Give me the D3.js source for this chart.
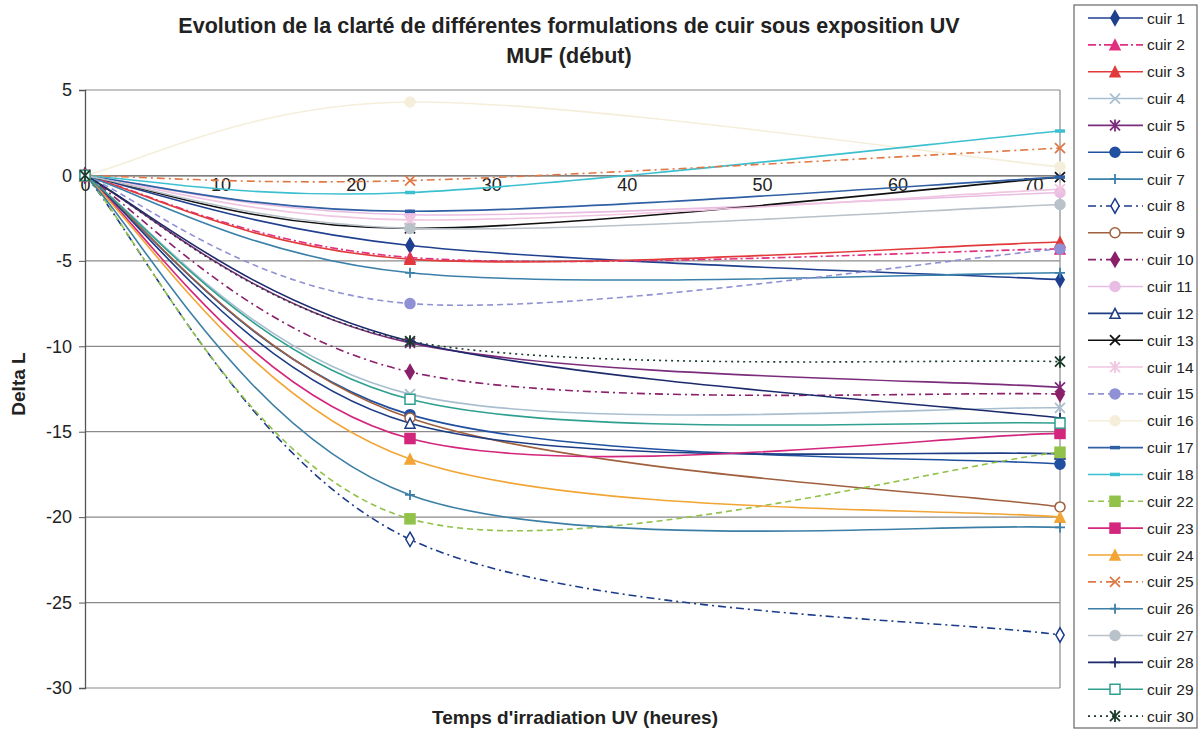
<!DOCTYPE html>
<html><head><meta charset="utf-8">
<script src="https://cdn.jsdelivr.net/npm/d3@7"></script>
<style>
html,body{margin:0;padding:0;background:#fff;}
svg{display:block;font-family:Arial,"Liberation Sans",sans-serif;}
</style></head>
<body><svg id="chart" width="1202" height="734"></svg>
<script>
// ---- data ----
const hours = [0, 24, 72];
const names = ["cuir 1","cuir 2","cuir 3","cuir 4","cuir 5","cuir 6","cuir 7","cuir 8","cuir 9","cuir 10",
  "cuir 11","cuir 12","cuir 13","cuir 14","cuir 15","cuir 16","cuir 17","cuir 18","cuir 22","cuir 23",
  "cuir 24","cuir 25","cuir 26","cuir 27","cuir 28","cuir 29","cuir 30"];
const cuir1  = [0, -4.1, -6.1];
const cuir2  = [0, -4.8, -4.3];
const cuir3  = [0, -4.9, -3.9];
const cuir4  = [0, -12.8, -13.6];
const cuir5  = [0, -9.8, -12.4];
const cuir6  = [0, -14.0, -16.9];
const cuir7  = [0, -5.7, -5.7];
const cuir8  = [0, -21.3, -26.9];
const cuir9  = [0, -14.2, -19.4];
const cuir10 = [0, -11.5, -12.8];
const cuir11 = [0, -2.3, -1.0];
const cuir12 = [0, -14.5, -16.3];
const cuir13 = [0, -3.1, -0.1];
const cuir14 = [0, -2.6, -0.8];
const cuir15 = [0, -7.5, -4.3];
const cuir16 = [0, 4.3, 0.5];
const cuir17 = [0, -2.1, -0.1];
const cuir18 = [0, -1.0, 2.6];
const cuir22 = [0, -20.1, -16.2];
const cuir23 = [0, -15.4, -15.1];
const cuir24 = [0, -16.6, -20.0];
const cuir25 = [0, -0.3, 1.6];
const cuir26 = [0, -18.7, -20.6];
const cuir27 = [0, -3.1, -1.7];
const cuir28 = [0, -9.7, -14.2];
const cuir29 = [0, -13.1, -14.5];
const cuir30 = [0, -9.7, -10.9];
const seriesValues = [cuir1,cuir2,cuir3,cuir4,cuir5,cuir6,cuir7,cuir8,cuir9,cuir10,cuir11,cuir12,cuir13,cuir14,
  cuir15,cuir16,cuir17,cuir18,cuir22,cuir23,cuir24,cuir25,cuir26,cuir27,cuir28,cuir29,cuir30];
const xTicks = [0, 10, 20, 30, 40, 50, 60, 70];
const yTicks = [5, 0, -5, -10, -15, -20, -25, -30];

// ---- styles ----
const colors = ["#1f3f8f","#e0307f","#e23a3a","#a9bfd0","#7b2c7b","#2050a0","#3a80aa","#1a3a8a","#a0603f","#8a1f6a",
  "#e9bde3","#1c3c84","#111111","#f0c6e2","#9090d4","#f5eedb","#3060a4","#3cc0d0","#92c24a","#d3267d",
  "#f2a535","#e07845","#3c7fa6","#b9c1c9","#1c2a6c","#2fa090","#1c3a2c"];
const dashes = [null,"8,3,2,3",null,null,null,null,null,"8,4,2,4",null,"8,4,2,4",
  null,null,null,null,"6,4",null,null,null,"6,4",null,
  null,"8,4,2,4",null,null,null,null,"2,4"];
const markers = ["diamond","triangle","triangle","x","asterisk","circle","plus","diamond","circle","diamond",
  "circle","triangle","x","asterisk","circle","circle","dash","dash","square","square",
  "triangle","x","plus","circle","plus","square","asterisk"];
const filled = [true,true,true,false,false,true,false,false,false,true,
  true,false,false,false,true,true,true,true,true,true,
  true,false,false,true,false,false,false];

const svg = d3.select("#chart");
const W = 1202, H = 734;
svg.append("rect").attr("width", W).attr("height", H).attr("fill", "#fff");

const x = d3.scaleLinear().domain([0, 72]).range([85, 1060]);
const y = d3.scaleLinear().domain([-30, 5]).range([688, 90]);
const gridColor = "#8a8a8a";

// gridlines
svg.append("g").selectAll("line").data(yTicks.filter(d => d !== 0)).join("line")
  .attr("x1", x(0)).attr("x2", x(72)).attr("y1", d => y(d)).attr("y2", d => y(d))
  .attr("stroke", gridColor).attr("stroke-width", 1.2);
// right border
svg.append("line").attr("x1", x(72)).attr("x2", x(72)).attr("y1", y(5)).attr("y2", y(-30))
  .attr("stroke", gridColor).attr("stroke-width", 1.2);

// y axis
const yAxis = d3.axisLeft(y).tickValues(yTicks).tickSize(6).tickPadding(7).tickFormat(d3.format("d"));
const gy = svg.append("g").attr("transform", `translate(${x(0)},0)`).call(yAxis);
gy.select(".domain").attr("stroke", "#555").attr("stroke-width", 1.3);
gy.selectAll(".tick line").attr("stroke", "#555");
gy.selectAll("text").attr("font-size", 18).attr("fill", "#222").text(d => d < 0 ? "-" + Math.abs(d) : d);

// x axis at y=0
const xAxis = d3.axisBottom(x).tickValues(xTicks).tickSize(0).tickPadding(3).tickFormat(d3.format("d"));
const gx = svg.append("g").attr("transform", `translate(0,${y(0)})`).call(xAxis);
gx.select(".domain").attr("stroke", "#555").attr("stroke-width", 1.3);
gx.selectAll("text").attr("font-size", 18).attr("fill", "#222");

// smoothed line (Excel-like Catmull-Rom with duplicated endpoints)
function smoothPath(vals) {
  const pts = vals.map((v, i) => [x(hours[i]), y(v)]);
  const p = d3.path();
  p.moveTo(pts[0][0], pts[0][1]);
  for (let i = 0; i < pts.length - 1; i++) {
    const p0 = pts[Math.max(0, i - 1)], p1 = pts[i], p2 = pts[i + 1], p3 = pts[Math.min(pts.length - 1, i + 2)];
    const c1 = [p1[0] + (p2[0] - p0[0]) / 6, p1[1] + (p2[1] - p0[1]) / 6];
    const c2 = [p2[0] - (p3[0] - p1[0]) / 6, p2[1] - (p3[1] - p1[1]) / 6];
    p.bezierCurveTo(c1[0], c1[1], c2[0], c2[1], p2[0], p2[1]);
  }
  return p.toString();
}

function drawMarker(g, type, color, fill, s) {
  const r = s / 2;
  const fc = fill ? color : "#fff";
  if (type === "diamond") g.append("path").attr("d", d3.symbol(d3.symbolDiamond, s * s * 0.6)()).attr("fill", fc).attr("stroke", color).attr("stroke-width", 1.5);
  else if (type === "triangle") g.append("path").attr("d", `M0,${-r}L${r},${r}L${-r},${r}Z`).attr("fill", fc).attr("stroke", color).attr("stroke-width", 1.5);
  else if (type === "square") g.append("rect").attr("x", -r).attr("y", -r).attr("width", s).attr("height", s).attr("fill", fc).attr("stroke", color).attr("stroke-width", 1.5);
  else if (type === "circle") g.append("circle").attr("r", r).attr("fill", fc).attr("stroke", color).attr("stroke-width", 1.5);
  else if (type === "x") g.append("path").attr("d", `M${-r},${-r}L${r},${r}M${-r},${r}L${r},${-r}`).attr("stroke", color).attr("stroke-width", 1.8).attr("fill", "none");
  else if (type === "asterisk") g.append("path").attr("d", `M${-r},${-r}L${r},${r}M${-r},${r}L${r},${-r}M0,${-r - 1}L0,${r + 1}`).attr("stroke", color).attr("stroke-width", 1.8).attr("fill", "none");
  else if (type === "plus") g.append("path").attr("d", `M0,${-r}L0,${r}M${-r},0L${r},0`).attr("stroke", color).attr("stroke-width", 1.8).attr("fill", "none");
  else if (type === "dash") g.append("path").attr("d", `M${-r},0L${r},0`).attr("stroke", color).attr("stroke-width", 3.5).attr("fill", "none");
}

const plot = svg.append("g");
seriesValues.forEach((vals, i) => {
  plot.append("path").attr("d", smoothPath(vals)).attr("fill", "none")
    .attr("stroke", colors[i]).attr("stroke-width", 1.6)
    .attr("stroke-dasharray", dashes[i]);
});
seriesValues.forEach((vals, i) => {
  vals.forEach((v, j) => {
    const g = plot.append("g").attr("transform", `translate(${x(hours[j])},${y(v)})`);
    drawMarker(g, markers[i], colors[i], filled[i], 10);
  });
});

// titles
svg.append("text").attr("x", 569).attr("y", 33).attr("text-anchor", "middle").attr("font-size", 21.5).attr("font-weight", "bold").attr("fill", "#222")
  .text("Evolution de la clarté de différentes formulations de cuir sous exposition UV");
svg.append("text").attr("x", 569).attr("y", 63).attr("text-anchor", "middle").attr("font-size", 21.5).attr("font-weight", "bold").attr("fill", "#222")
  .text("MUF (début)");
svg.append("text").attr("x", 575).attr("y", 724).attr("text-anchor", "middle").attr("font-size", 19).attr("font-weight", "bold").attr("fill", "#222")
  .text("Temps d'irradiation UV (heures)");
svg.append("text").attr("transform", "translate(25,384) rotate(-90)").attr("text-anchor", "middle").attr("font-size", 19).attr("font-weight", "bold").attr("fill", "#222")
  .text("Delta L");

// legend
const lg = svg.append("g");
lg.append("rect").attr("x", 1074).attr("y", 5).attr("width", 123).attr("height", 723).attr("fill", "#fff").attr("stroke", "#666").attr("stroke-width", 1.2);
names.forEach((n, i) => {
  const yy = 18 + i * 26.85;
  const g = lg.append("g").attr("transform", `translate(0,${yy})`);
  g.append("line").attr("x1", 1088).attr("x2", 1143).attr("y1", 0).attr("y2", 0).attr("stroke", colors[i]).attr("stroke-width", 1.6).attr("stroke-dasharray", dashes[i]);
  const mg = g.append("g").attr("transform", "translate(1115,0)");
  drawMarker(mg, markers[i], colors[i], filled[i], 10);
  g.append("text").attr("x", 1147).attr("y", 5.5).attr("font-size", 15.5).attr("fill", "#222").text(n);
});
</script></body></html>
